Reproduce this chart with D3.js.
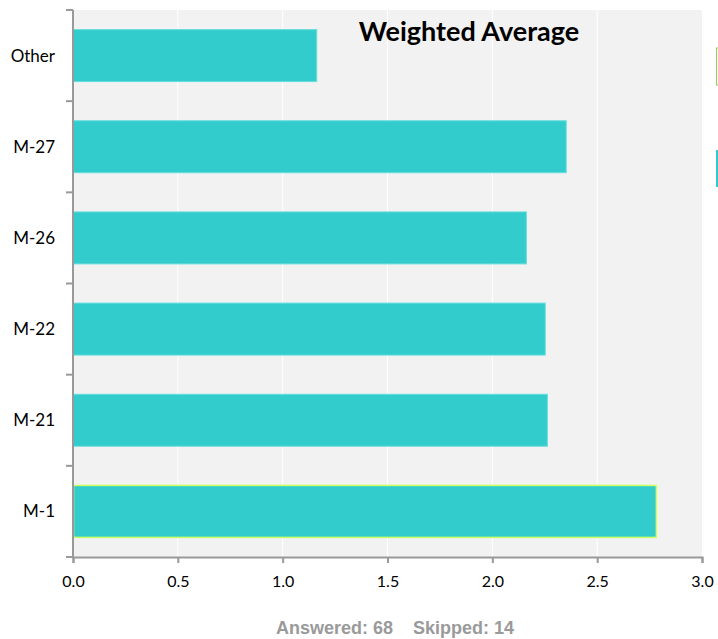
<!DOCTYPE html>
<html>
<head>
<meta charset="utf-8">
<script src="https://cdn.jsdelivr.net/npm/d3@7"></script>
<style>
  body { margin: 0; background: #ffffff; }
  svg { display: block; }
</style>
</head>
<body>
<div id="chart"></div>
<script>
const categories = ["Other", "M-27", "M-26", "M-22", "M-21", "M-1"]
const averages = [1.16, 2.35, 2.16, 2.25, 2.26, 2.78]
const xTicks = [0, 0.5, 1, 1.5, 2, 2.5, 3]
const answered = 68
const skipped = 14

const width = 718
const height = 639
const plotLeft = 73, plotRight = 702, plotTop = 10, plotBottom = 557

const svg = d3.select('#chart')
  .append('svg')
  .attr('width', width)
  .attr('height', height)

const x = d3.scaleLinear().domain([0, 3]).range([plotLeft, plotRight])
const y = d3.scaleBand().domain(categories).range([plotTop, plotBottom]).paddingInner(0.43).paddingOuter(0.215)

// plot background
svg.append('rect')
  .attr('x', plotLeft).attr('y', plotTop)
  .attr('width', plotRight - plotLeft).attr('height', plotBottom - plotTop)
  .attr('fill', '#f2f2f2')

// grid lines
svg.append('g')
  .selectAll('line')
  .data(xTicks.slice(1, -1))
  .enter()
  .append('line')
  .attr('x1', d => x(d)).attr('x2', d => x(d))
  .attr('y1', plotTop).attr('y2', plotBottom)
  .attr('stroke', '#ffffff')
  .attr('stroke-width', 1)

// bars
svg.append('g')
  .selectAll('rect')
  .data(categories)
  .enter()
  .append('rect')
  .attr('x', x(0) + 0.5)
  .attr('y', d => y(d))
  .attr('width', (d, i) => x(averages[i]) - x(0))
  .attr('height', y.bandwidth())
  .attr('fill', '#33cccc')
  .attr('stroke', d => d === 'M-1' ? '#ccff66' : '#66dddd')
  .attr('stroke-width', d => d === 'M-1' ? 1.5 : 1)

// x axis
const xAxis = svg.append('g')
  .attr('transform', `translate(0,${plotBottom})`)
  .call(d3.axisBottom(x).tickValues(xTicks).tickFormat(d3.format('.1f')).tickSizeOuter(0).tickSize(6))
xAxis.select('.domain').attr('stroke', '#999999').attr('stroke-width', 2)
xAxis.selectAll('.tick line').attr('stroke', '#999999').attr('stroke-width', 2)
xAxis.selectAll('text')
  .attr('dy', '1.3em')
  .style('font-family', 'Lato, sans-serif')
  .style('font-size', '16px')
  .attr('fill', '#000')

// y axis with ticks at band edges
const yAxis = svg.append('g')
  .attr('transform', `translate(${plotLeft},0)`)
yAxis.append('line')
  .attr('x1', 0).attr('x2', 0)
  .attr('y1', plotTop).attr('y2', plotBottom)
  .attr('stroke', '#999999').attr('stroke-width', 2)
const edges = categories.map(d => y(d) - y.step() * y.paddingInner() / 2).concat([plotBottom])
yAxis.selectAll('.edge')
  .data(edges)
  .enter()
  .append('line')
  .attr('x1', -7).attr('x2', 0)
  .attr('y1', d => d).attr('y2', d => d)
  .attr('stroke', '#999999').attr('stroke-width', 2)
yAxis.selectAll('text')
  .data(categories)
  .enter()
  .append('text')
  .attr('x', -18)
  .attr('y', d => y(d) + y.bandwidth() / 2)
  .attr('dy', '0.35em')
  .attr('text-anchor', 'end')
  .style('font-family', 'Lato, sans-serif')
  .style('font-size', '17px')
  .text(d => d)

// title
svg.append('text')
  .attr('x', 469).attr('y', 41)
  .attr('text-anchor', 'middle')
  .style('font-family', 'Lato, sans-serif')
  .style('font-weight', 'bold')
  .style('font-size', '27px')
  .text('Weighted Average')

// legend (cut off at the right edge)
svg.append('rect')
  .attr('x', 716.5).attr('y', 48)
  .attr('width', 12).attr('height', 37)
  .attr('fill', '#ffffff')
  .attr('stroke', '#99cc55')
svg.append('rect')
  .attr('x', 716).attr('y', 150)
  .attr('width', 12).attr('height', 37)
  .attr('fill', '#33cccc')

// footer
svg.append('text')
  .attr('x', 395).attr('y', 634)
  .attr('text-anchor', 'middle')
  .attr('fill', '#9a9a9a')
  .style('font-family', 'Liberation Sans, Arial, sans-serif')
  .style('font-weight', 'bold')
  .style('font-size', '18px')
  .style('white-space', 'pre')
  .text(`Answered: ${answered}    Skipped: ${skipped}`)
</script>
</body>
</html>
